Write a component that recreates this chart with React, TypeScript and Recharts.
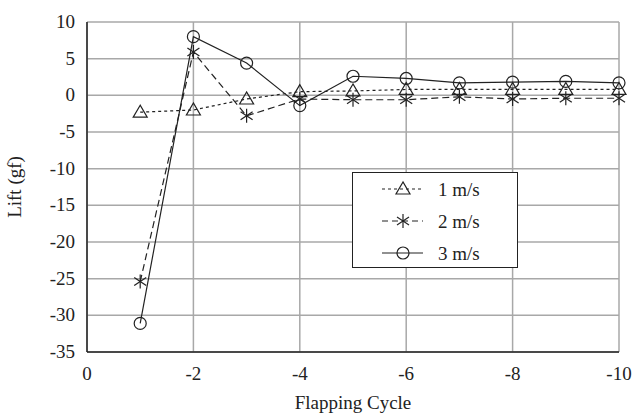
import React from "react";
import {
  LineChart,
  Line,
  XAxis,
  YAxis,
  CartesianGrid,
} from "recharts";

const cycles = [-1, -2, -3, -4, -5, -6, -7, -8, -9, -10];
const lift1 = [-2.3, -2.0, -0.5, 0.5, 0.6, 0.8, 0.8, 0.8, 0.8, 0.8];
const lift2 = [-25.4, 5.9, -2.8, -0.5, -0.6, -0.6, -0.2, -0.5, -0.4, -0.4];
const lift3 = [-31.1, 8.0, 4.4, -1.4, 2.6, 2.3, 1.7, 1.8, 1.9, 1.7];
const xTicks = [0, -2, -4, -6, -8, -10];
const yTicks = [10, 5, 0, -5, -10, -15, -20, -25, -30, -35];

const data = cycles.map((c, i) => ({
  cycle: c,
  s1: lift1[i],
  s2: lift2[i],
  s3: lift3[i],
}));

const INK = "#222";
const FONT = "'Liberation Serif', 'Times New Roman', serif";
const FS = 19;

const XTick = (props: any) => {
  const { x, y, payload } = props;
  return (
    <text x={x} y={y + 22} textAnchor="middle" fontFamily={FONT} fontSize={FS} fill={INK}>
      {payload.value}
    </text>
  );
};

const YTick = (props: any) => {
  const { x, y, payload } = props;
  return (
    <text x={x} y={y + 6} textAnchor="end" fontFamily={FONT} fontSize={FS} fill={INK}>
      {payload.value}
    </text>
  );
};

const Triangle = (props: any) => {
  const { cx, cy } = props;
  if (cx == null || cy == null) return null;
  return (
    <polygon
      points={`${cx},${cy - 7} ${cx - 7},${cy + 5} ${cx + 7},${cy + 5}`}
      fill="none"
      stroke={INK}
      strokeWidth={1.2}
    />
  );
};

const Star = (props: any) => {
  const { cx, cy } = props;
  if (cx == null || cy == null) return null;
  return (
    <g stroke={INK} strokeWidth={1.2}>
      <line x1={cx} y1={cy - 7} x2={cx} y2={cy + 7} />
      <line x1={cx - 6} y1={cy - 4} x2={cx + 6} y2={cy + 4} />
      <line x1={cx - 6} y1={cy + 4} x2={cx + 6} y2={cy - 4} />
    </g>
  );
};

const Circle = (props: any) => {
  const { cx, cy } = props;
  if (cx == null || cy == null) return null;
  return <circle cx={cx} cy={cy} r={6} fill="none" stroke={INK} strokeWidth={1.2} />;
};

const legendItems = [
  { label: "1 m/s", dash: "3 3", Mark: Triangle },
  { label: "2 m/s", dash: "6 4", Mark: Star },
  { label: "3 m/s", dash: undefined, Mark: Circle },
];

const LegendBox = () => (
  <svg width={166} height={96} style={{ display: "block" }}>
    <rect x={0.5} y={0.5} width={165} height={95} fill="#fff" stroke={INK} strokeWidth={1} />
    {legendItems.map((it, i) => {
      const y = 17 + i * 32;
      return (
        <g key={it.label}>
          <line x1={30} y1={y} x2={71} y2={y} stroke={INK} strokeWidth={1.2} strokeDasharray={it.dash} />
          <it.Mark cx={51} cy={y} />
          <text x={86} y={y + 7} fontFamily={FONT} fontSize={FS} fill={INK}>
            {it.label}
          </text>
        </g>
      );
    })}
  </svg>
);

export default function App() {
  return (
    <div
      style={{
        position: "absolute",
        left: 0,
        top: 0,
        width: 635,
        height: 419,
        background: "#fff",
        fontFamily: FONT,
      }}
    >
      <LineChart
        width={635}
        height={419}
        data={data}
        margin={{ top: 22, right: 16, bottom: 0, left: 0 }}
      >
        <CartesianGrid stroke="#a8a8a8" strokeWidth={1.5} />
        <XAxis
          dataKey="cycle"
          type="number"
          domain={[-10, 0]}
          reversed
          ticks={xTicks}
          tickLine={false}
          axisLine={{ stroke: INK, strokeWidth: 1.5 }}
          tick={<XTick />}
          tickMargin={0}
          height={67}
          label={{
            value: "Flapping Cycle",
            position: "insideBottom",
            offset: 10,
            fill: INK,
            fontFamily: FONT,
            fontSize: FS,
          }}
        />
        <XAxis
          xAxisId="top"
          orientation="top"
          dataKey="cycle"
          type="number"
          domain={[-10, 0]}
          reversed
          tick={false}
          tickLine={false}
          axisLine={{ stroke: INK, strokeWidth: 1.5 }}
          height={0}
        />
        <YAxis
          type="number"
          domain={[-35, 10]}
          ticks={yTicks}
          interval={0}
          tickLine={false}
          axisLine={{ stroke: INK, strokeWidth: 1.5 }}
          tick={<YTick />}
          tickMargin={6}
          width={87}
          label={{
            value: "Lift (gf)",
            angle: -90,
            position: "insideLeft",
            offset: 14,
            style: { textAnchor: "middle" },
            fill: INK,
            fontFamily: FONT,
            fontSize: FS,
          }}
        />
        <YAxis
          yAxisId="right"
          orientation="right"
          domain={[-35, 10]}
          tick={false}
          tickLine={false}
          axisLine={{ stroke: INK, strokeWidth: 1.5 }}
          width={0}
        />
        <Line
          dataKey="s1"
          name="1 m/s"
          stroke={INK}
          strokeWidth={1.2}
          strokeDasharray="3 3"
          dot={<Triangle />}
          isAnimationActive={false}
        />
        <Line
          dataKey="s2"
          name="2 m/s"
          stroke={INK}
          strokeWidth={1.2}
          strokeDasharray="7 4"
          dot={<Star />}
          isAnimationActive={false}
        />
        <Line
          dataKey="s3"
          name="3 m/s"
          stroke={INK}
          strokeWidth={1.2}
          dot={<Circle />}
          isAnimationActive={false}
        />
      </LineChart>
      <div style={{ position: "absolute", left: 352, top: 172 }}>
        <LegendBox />
      </div>
    </div>
  );
}
